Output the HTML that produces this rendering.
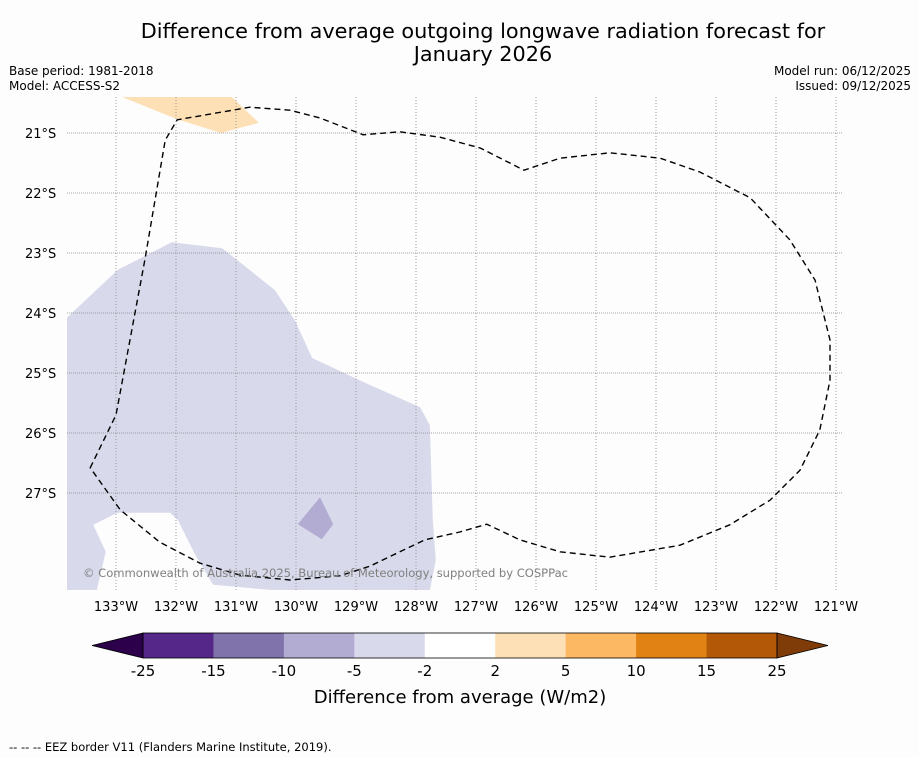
<!DOCTYPE html>
<html><head><meta charset="utf-8"><style>
body{margin:0;background:#fdfdfd;font-family:"Liberation Sans","DejaVu Sans",sans-serif;overflow:hidden}
svg{display:block}
svg text{font-family:"DejaVu Sans","Liberation Sans",sans-serif}
</style></head><body>
<svg id="c" width="919" height="758" viewBox="0 0 919 758" xmlns="http://www.w3.org/2000/svg">
<rect width="919" height="758" fill="#fdfdfd"/>
<text x="483" y="38" font-size="20.8" text-anchor="middle">Difference from average outgoing longwave radiation forecast for</text>
<text x="483" y="61" font-size="20.8" text-anchor="middle">January 2026</text>
<text x="9" y="75" font-size="12">Base period: 1981-2018</text>
<text x="9" y="90" font-size="12">Model: ACCESS-S2</text>
<text x="911" y="75" font-size="12" text-anchor="end">Model run: 06/12/2025</text>
<text x="911" y="90" font-size="12" text-anchor="end">Issued: 09/12/2025</text>
<g id="map"></g>
<g id="cbar"></g>
<text x="460" y="703" font-size="18" text-anchor="middle">Difference from average (W/m2)</text>
<text x="9" y="751" font-size="11.5">--  --  -- EEZ border V11 (Flanders Marine Institute, 2019).</text>
</svg>
<script>
const lonTicks=[-133,-132,-131,-130,-129,-128,-127,-126,-125,-124,-123,-122,-121];
const latTicks=[-21,-22,-23,-24,-25,-26,-27];
const latLabelTicks=[-21,-22,-23,-24,-25,-26,-27];
const levels=[-25,-15,-10,-5,-2,2,5,10,15,25];
const levelColors=["#542788","#8073ac","#b2abd2","#d8daeb","#ffffff","#fee0b6","#fdb863","#e08214","#b35806"];
const underColor="#2d004b", overColor="#7f3b08";
const lightPurple=[[-133.82,-24.08],[-132.97,-23.28],[-132.07,-22.82],[-131.23,-22.92],[-130.35,-23.62],[-130.02,-24.12],[-129.73,-24.75],[-128.77,-25.2],[-127.93,-25.57],[-127.77,-25.87],[-127.72,-27.45],[-127.67,-28.12],[-127.77,-28.62],[-130.38,-28.62],[-131.38,-28.53],[-131.68,-28.03],[-131.97,-27.45],[-132.1,-27.33],[-132.97,-27.33],[-133.38,-27.53],[-133.17,-27.98],[-133.32,-28.62],[-133.82,-28.62]];
const midPurple=[[-129.6,-27.07],[-129.38,-27.52],[-129.57,-27.77],[-129.97,-27.52]];
const lightOrange=[[-132.9,-20.4],[-131.07,-20.4],[-130.62,-20.83],[-131.25,-21.0],[-131.98,-20.77]];
const eez=[[-133.43,-26.58],[-133,-25.7],[-132.52,-23.12],[-132.18,-21.12],[-131.98,-20.78],[-130.77,-20.57],[-130.1,-20.62],[-129.6,-20.75],[-128.88,-21.03],[-128.27,-20.98],[-127.6,-21.07],[-126.93,-21.25],[-126.2,-21.62],[-125.6,-21.42],[-124.77,-21.33],[-123.93,-21.42],[-123.27,-21.65],[-122.43,-22.08],[-121.77,-22.78],[-121.35,-23.45],[-121.1,-24.45],[-121.1,-25.12],[-121.27,-25.95],[-121.6,-26.62],[-122.1,-27.12],[-122.77,-27.53],[-123.6,-27.87],[-124.77,-28.07],[-125.6,-27.98],[-126.27,-27.78],[-126.82,-27.52],[-127.27,-27.65],[-127.85,-27.78],[-128.27,-27.98],[-128.77,-28.22],[-129.27,-28.38],[-130.1,-28.45],[-130.93,-28.37],[-131.6,-28.17],[-132.27,-27.82],[-132.93,-27.28]];
const NS="http://www.w3.org/2000/svg";
const X0=67,X1=843,Y0=97,Y1=590;
const xs=lon=>116+(lon+133)*60;
const ys=lat=>133+(-21-lat)*60;
function mk(t,a,p){const e=document.createElementNS(NS,t);for(const k in a)e.setAttribute(k,a[k]);p.appendChild(e);return e;}
const map=document.getElementById('map');
const clip=mk('clipPath',{id:'mc'},map);mk('rect',{x:X0,y:Y0,width:X1-X0,height:Y1-Y0},clip);
const g=mk('g',{'clip-path':'url(#mc)'},map);
const pts=a=>a.map(p=>xs(p[0]).toFixed(1)+','+ys(p[1]).toFixed(1)).join(' ');
let e=mk('polygon',{points:pts(lightPurple),fill:levelColors[3]},g);


e=mk('polygon',{points:pts(midPurple),fill:levelColors[2]},g);


e=mk('polygon',{points:pts(lightOrange),fill:levelColors[5]},g);


lonTicks.forEach(l=>{const x=xs(l);
 let ln=mk('line',{x1:x,y1:Y0,x2:x,y2:Y1,stroke:'#888','stroke-width':0.8,'stroke-dasharray':'1,2'},g);
 
 
 let t=mk('text',{x:x,y:611,'font-size':13,'text-anchor':'middle'},map);t.textContent=(-l)+'°W';
 
 
});
latTicks.forEach(l=>{const y=ys(l);
 let ln=mk('line',{x1:X0,y1:y,x2:X1,y2:y,stroke:'#888','stroke-width':0.8,'stroke-dasharray':'1,1'},g);
 
 
});
latLabelTicks.forEach(l=>{let t=mk('text',{x:25,y:ys(l)+5,'font-size':13},map);t.textContent=(-l)+'°S';
 
 
});
e=mk('polygon',{points:pts(eez),fill:'none',stroke:'#000','stroke-width':1.4,'stroke-dasharray':'6,4','stroke-linejoin':'round'},g);


e=mk('text',{x:83,y:577,'font-size':11.6,fill:'#808080',textLength:485},map);e.textContent='© Commonwealth of Australia 2025, Bureau of Meteorology, supported by COSPPac';


const cb=document.getElementById('cbar');
const CB0=143,CB1=777,CT=633,CBh=25,n=levels.length-1,w=(CB1-CB0)/n;
for(let i=0;i<n;i++){const r=mk('rect',{x:CB0+i*w,y:CT,width:w+0.5,height:CBh,fill:levelColors[i]},cb);
 
 }
e=mk('polygon',{points:`${CB0},${CT} ${CB0},${CT+CBh} 92,${CT+CBh/2}`,fill:underColor,stroke:'#000','stroke-width':0.8},cb);


e=mk('polygon',{points:`${CB1},${CT} ${CB1},${CT+CBh} 828,${CT+CBh/2}`,fill:overColor,stroke:'#000','stroke-width':0.8},cb);


mk('rect',{x:CB0,y:CT,width:CB1-CB0,height:CBh,fill:'none',stroke:'#000','stroke-width':0.8},cb);
levels.forEach((v,i)=>{const t=mk('text',{x:CB0+i*w,y:676,'font-size':15,'text-anchor':'middle'},cb);t.textContent=v;
 
 });
</script>
</body></html>
